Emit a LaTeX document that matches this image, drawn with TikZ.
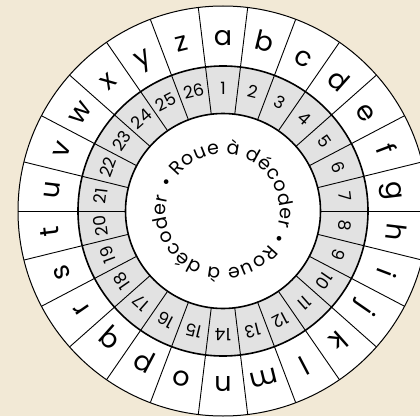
\documentclass[tikz,border=0pt]{standalone}
\usepackage{fontspec}
\setmainfont{Poppins}
\usetikzlibrary{decorations.text}

\begin{document}
\begin{tikzpicture}[
  x=1pt, y=1pt,
  letter/.style={font=\fontsize{27}{27}\selectfont, anchor=base, inner sep=0pt},
  digit/.style={font=\fontsize{17}{17}\selectfont, anchor=base, inner sep=0pt},
  spoke/.style={draw=black, line width=0.9pt},
  rim/.style={draw=black, line width=1.6pt}
]

\definecolor{paper}{RGB}{242,233,214}
\definecolor{band}{RGB}{226,226,226}

\fill[paper] (0,0) rectangle (420,416);
\useasboundingbox (0,0) rectangle (420,416);

\begin{scope}[shift={(223,205)}]
% rings
\fill[white] (0,0) circle[radius=205];
\fill[band] (0,0) circle[radius=145];
\fill[white] (0,0) circle[radius=97.5];

\foreach \k in {0,...,25} {
  \pgfmathsetmacro{\a}{90+180/26-\k*360/26}
  \draw[spoke] (\a:97.5) -- (\a:205);
}

\draw[draw=black, line width=1pt] (0,0) circle[radius=205];
\draw[rim] (0,0) circle[radius=145];
\draw[rim] (0,0) circle[radius=97.5];

% alphabet, outer ring
\foreach \ch [count=\i from 0] in {a,...,z} {
  \pgfmathsetmacro{\a}{90-\i*360/26}
  \node[letter, rotate=\a-90] (l\ch) at (\a:165) {\ch};
}

% numbers, grey ring
\foreach \n in {1,...,26} {
  \pgfmathsetmacro{\a}{90-(\n-1)*360/26}
  \node[digit, rotate=\a-90] (n\n) at (\a:117) {\n};
}

% title round the hub
\path[decorate, decoration={text along path, text align=fit to path,
  text={|\fontsize{19}{19}\selectfont|• Roue à décoder • Roue à décoder}}]
  (157:57) arc[start angle=157, delta angle=-352, radius=57];
\end{scope}

\end{tikzpicture}
\end{document}
